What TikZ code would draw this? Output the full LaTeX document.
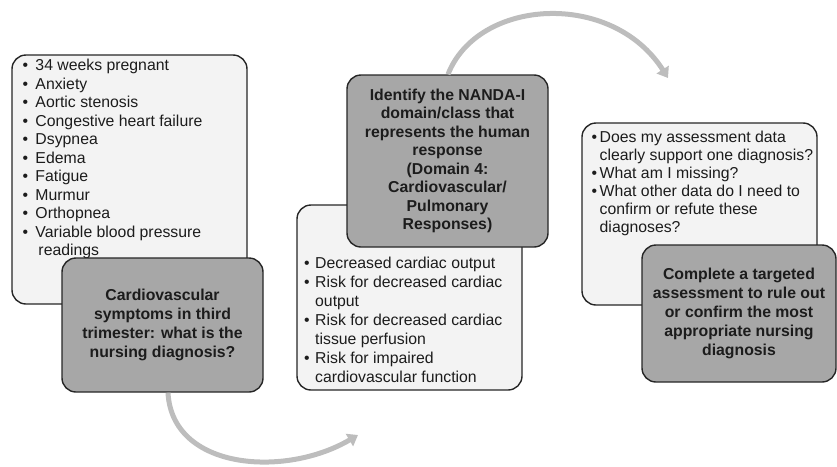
\documentclass[tikz,border=0pt]{standalone}
\usepackage{fontspec}
\setmainfont{Liberation Sans}
\usetikzlibrary{arrows.meta}

\definecolor{panelfill}{HTML}{F3F3F3}
\definecolor{keyfill}{HTML}{A7A7A7}
\definecolor{edgeline}{HTML}{262626}
\definecolor{flowgray}{HTML}{BDBDBD}
\definecolor{ink}{HTML}{1C1C1C}

% bullet followed by a fixed gap
\newcommand\itemdot[1]{\makebox[#1][l]{•}}

\begin{document}
\begin{tikzpicture}[x=1pt,y=-1pt,
  panel/.style={draw=edgeline, line width=1.4pt, fill=panelfill,
    rounded corners=14pt, inner sep=0pt},
  keybox/.style={draw=edgeline, line width=1.4pt, fill=keyfill,
    rounded corners=14pt, inner sep=0pt, text=ink, align=center,
    font={\fontsize{15.8}{19}\selectfont\bfseries}},
  listtext/.style={inner sep=0pt, anchor=north west, align=left, text=ink},
  flow/.style={draw=flowgray, line width=5pt,
    -{Triangle[length=10pt,width=14pt]}}]

\useasboundingbox (0,0) rectangle (837,466);

% left column
\node[panel, minimum width=235pt, minimum height=249pt] (w1) at (129.5,179.5) {};
\node[listtext, font={\fontsize{15.8}{18.5}\selectfont}] (l1) at (22.3,59)
  {\itemdot{13pt}34 weeks pregnant\\
   \itemdot{13pt}Anxiety\\
   \itemdot{13pt}Aortic stenosis\\
   \itemdot{13pt}Congestive heart failure\\
   \itemdot{13pt}Dsypnea\\
   \itemdot{13pt}Edema\\
   \itemdot{13pt}Fatigue\\
   \itemdot{13pt}Murmur\\
   \itemdot{13pt}Orthopnea\\
   \itemdot{13pt}Variable blood pressure\\
   \hspace*{16pt}readings};
\node[keybox, minimum width=201pt, minimum height=134pt] (g1) at (162.5,325)
  {Cardiovascular\\symptoms in third\\trimester: what is the\\nursing diagnosis?};

% middle column
\node[panel, minimum width=225pt, minimum height=185pt] (w2) at (409.5,297.5) {};
\node[listtext, font={\fontsize{15.8}{18.9}\selectfont}] (l2) at (304,257)
  {\itemdot{11pt}Decreased cardiac output\\
   \itemdot{11pt}Risk for decreased cardiac\\
   \hspace*{11pt}output\\
   \itemdot{11pt}Risk for decreased cardiac\\
   \hspace*{11pt}tissue perfusion\\
   \itemdot{11pt}Risk for impaired\\
   \hspace*{11pt}cardiovascular function};
\node[keybox, minimum width=201pt, minimum height=172pt,
  font={\fontsize{15.8}{18.5}\selectfont\bfseries}] (g2) at (447.5,161)
  {Identify the NANDA-I\\domain/class that\\represents the human\\response\\(Domain 4:\\Cardiovascular/\\Pulmonary\\Responses)};

% right column
\node[panel, minimum width=235pt, minimum height=182pt] (w3) at (699.5,214) {};
\node[listtext, font={\fontsize{15.8}{18}\selectfont}] (l3) at (591.5,131)
  {\itemdot{8pt}Does my assessment data\\
   \hspace*{8pt}clearly support one diagnosis?\\
   \itemdot{8pt}What am I missing?\\
   \itemdot{8pt}What other data do I need to\\
   \hspace*{8pt}confirm or refute these\\
   \hspace*{8pt}diagnoses?};
\node[keybox, minimum width=194pt, minimum height=137pt] (g3) at (739,313.5)
  {Complete a targeted\\assessment to rule out\\or confirm the most\\appropriate nursing\\diagnosis};

% curved flow arrows
\coordinate (e1) at (358,435);
\coordinate (e2) at (668,78);
\draw[flow] ([xshift=5.5pt]g1.south) .. controls (172,470) and (285,478) .. (e1);
\draw[flow] ([xshift=0.5pt]g2.north) .. controls (478,-2) and (612,-10) .. (e2);

\end{tikzpicture}
\end{document}
